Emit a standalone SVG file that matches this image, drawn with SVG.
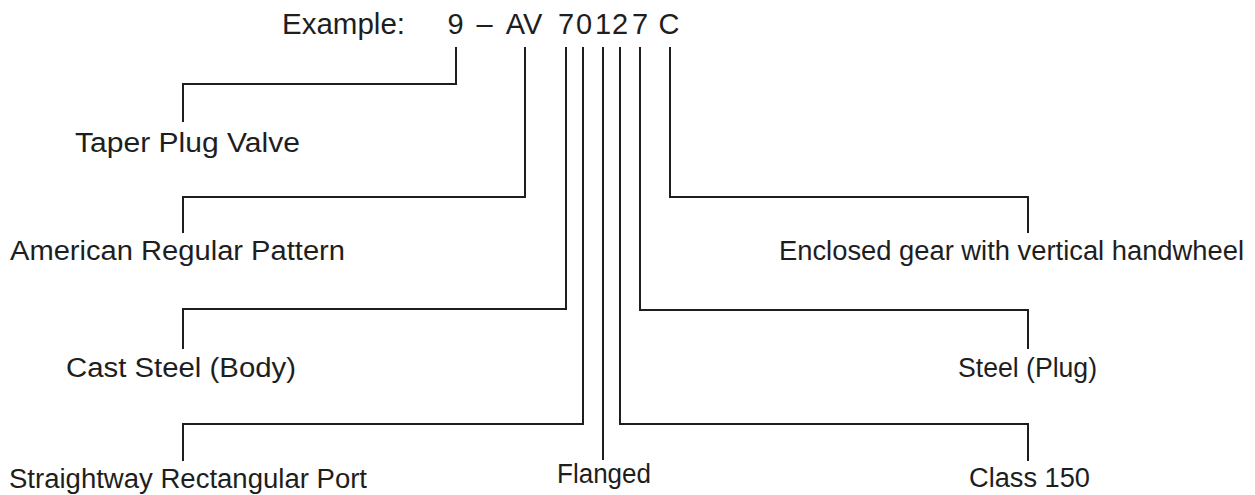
<svg xmlns="http://www.w3.org/2000/svg" width="1255" height="495" viewBox="0 0 1255 495">
<style>
.lbl{font-family:"Liberation Sans",Arial,sans-serif;font-size:27px;fill:#1e1e1e}
.ttl{font-family:"Liberation Sans",Arial,sans-serif;font-size:29px;fill:#1e1e1e}
.con path{fill:none;stroke:#1e1e1e;stroke-width:2;stroke-linejoin:miter}
</style>
<rect width="1255" height="495" fill="#ffffff"/>
<g id="title">
<text class="ttl" x="282" y="34" textLength="123" lengthAdjust="spacingAndGlyphs">Example:</text>
<text class="ttl" y="34" text-anchor="middle"><tspan x="455.5">9</tspan><tspan x="484.5">–</tspan><tspan x="524">AV</tspan><tspan x="566">7</tspan><tspan x="584">0</tspan><tspan x="603">1</tspan><tspan x="620">2</tspan><tspan x="640">7</tspan><tspan x="669">C</tspan></text>
</g>
<g id="connectors" class="con">
<path d="M456 47 V84 H183 V122"/>
<path d="M525 47 V197 H183 V233"/>
<path d="M566 47 V309 H183 V349"/>
<path d="M583 47 V424 H183 V461"/>
<path d="M603 47 V460"/>
<path d="M620 47 V424 H1028 V461"/>
<path d="M640 47 V310 H1028 V349"/>
<path d="M670 47 V197 H1028 V233"/>
</g>
<g id="taper"><text class="lbl" x="75" y="152" textLength="225" lengthAdjust="spacingAndGlyphs">Taper Plug Valve</text></g>
<g id="american"><text class="lbl" x="10" y="260" textLength="335" lengthAdjust="spacingAndGlyphs">American Regular Pattern</text></g>
<g id="caststeel"><text class="lbl" x="66" y="377" textLength="230" lengthAdjust="spacingAndGlyphs">Cast Steel (Body)</text></g>
<g id="straightway"><text class="lbl" x="9" y="488" textLength="358" lengthAdjust="spacingAndGlyphs">Straightway Rectangular Port</text></g>
<g id="flanged"><text class="lbl" x="557" y="483" textLength="94" lengthAdjust="spacingAndGlyphs">Flanged</text></g>
<g id="class150"><text class="lbl" x="969" y="487" textLength="121" lengthAdjust="spacingAndGlyphs">Class 150</text></g>
<g id="steelplug"><text class="lbl" x="958" y="377" textLength="139" lengthAdjust="spacingAndGlyphs">Steel (Plug)</text></g>
<g id="enclosed"><text class="lbl" x="779" y="260" textLength="465" lengthAdjust="spacingAndGlyphs">Enclosed gear with vertical handwheel</text></g>
</svg>
